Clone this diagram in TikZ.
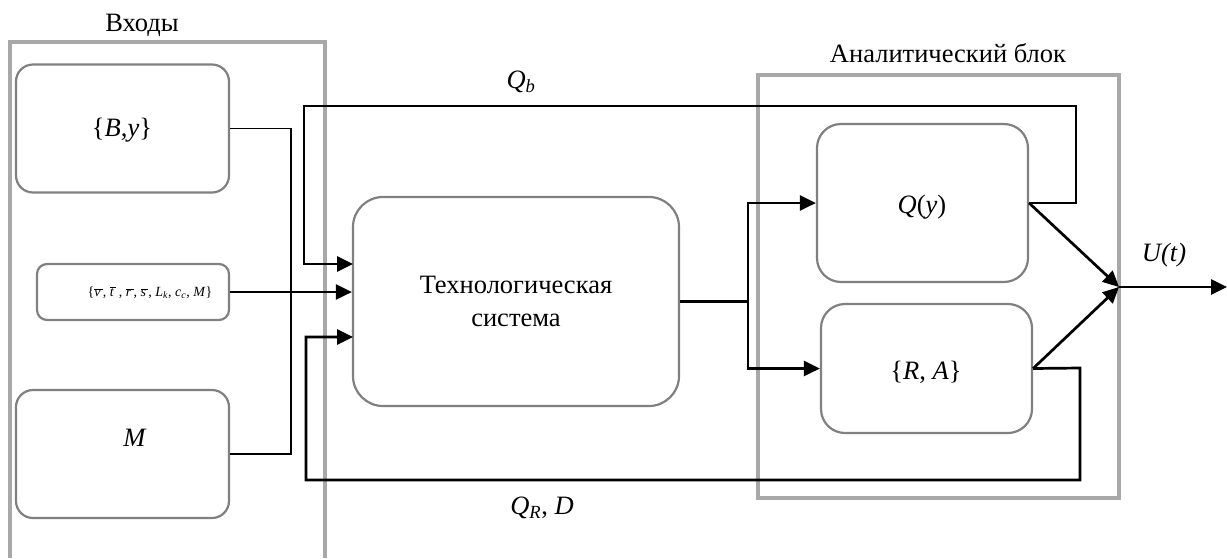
\documentclass[tikz,border=0pt]{standalone}
\usepackage{fontspec}
\setmainfont{Liberation Serif}
\usetikzlibrary{arrows.meta}
\newcommand{\ovl}[1]{$\overline{\mbox{\textit{#1}\,}}$}
\definecolor{groupgray}{HTML}{A8A8A8}
\definecolor{boxgray}{HTML}{808080}
\tikzset{
  group/.style={draw=groupgray, line width=3.5pt},
  block/.style={draw=boxgray, line width=2.2pt, rounded corners=17pt, inner sep=0pt},
  bigtext/.style={font=\fontsize{26.5}{33}\selectfont, inner sep=0pt, align=center},
  flow/.style={line width=2.7pt, -{Triangle[length=16pt,width=15pt]}},
  wire/.style={line width=2.7pt},
  thinwire/.style={line width=1.2pt}
}
\begin{document}
\begin{tikzpicture}[x=1pt, y=-1pt]
\useasboundingbox (0,0) rectangle (1227,558);

% group frames
\draw[group] (10,558) -- (10,42) -- (325,42) -- (325,558);
\node[bigtext] (inlabel) at (142,25) {Входы};
\draw[group] (758,75) rectangle (1119,498);
\node[bigtext] (anlabel) at (948,53) {Аналитический блок};

% input blocks
\node[block, minimum width=213pt, minimum height=128pt] (by) at (122.5,128.5) {};
\node[bigtext] (bytext) at (122,130) {\{\textit{B},\textit{y}\}};
\node[block, rounded corners=10pt, minimum width=192pt, minimum height=56pt] (fm) at (133,292) {};
\node[inner sep=0pt, font=\fontsize{14}{17}\selectfont] (fmtext) at (150,293)
  {\{\ovl{v}, \ovl{t}\,, \ovl{r}, \ovl{s}, \textit{L}\textsubscript{\textit{k}}, \textit{c}\textsubscript{\textit{c}}, \textit{M}\}};
\node[block, minimum width=213pt, minimum height=128pt] (mb) at (122.5,454) {};
\node[bigtext] (mtext) at (135,438) {\textit{M}};

% technological system
\node[block, rounded corners=30pt, minimum width=326pt, minimum height=209pt,
      bigtext, inner sep=0pt] (tech) at (516,301.5) {Технологическая\\система};

% analytic blocks
\node[block, rounded corners=24pt, minimum width=211pt, minimum height=158pt] (q) at (922.5,203) {};
\node[bigtext] (qtext) at (922,207) {\textit{Q}(\textit{y})};
\node[block, rounded corners=24pt, minimum width=211pt, minimum height=129pt] (ra) at (926.5,368.5) {};
\node[bigtext] (ratext) at (926,372) {\{\textit{R}, \textit{A}\}};

% routing points
\coordinate (bus) at (291,300);
\coordinate (in1) at (353,264);
\coordinate (in3) at (353,337);
\coordinate (qbR) at (1076,106);
\coordinate (qbL) at (304,106);
\coordinate (qrR) at (1080,368);
\coordinate (qrL) at (306,480);
\coordinate (fork) at (748,301.5);
\coordinate (join) at (1119,287);
\coordinate (out) at (1227,287);

% inputs bus
\draw[thinwire] (by.east) -| (bus) |- (mb.east);
\draw[flow] (fm.east) -- (tech.west |- fm.east);

% feedback loops
\draw[flow] (q.east) -| (qbR) -- (qbL) |- (in1);
\draw[flow] (ra.east) -- (qrR) |- (qrL) |- (in3);
\node[bigtext] (qblabel) at (521,82) {\textit{Q\textsubscript{b}}};
\node[bigtext] (qrlabel) at (542,508) {\textit{Q\textsubscript{R}}, \textit{D}};

% output of technological system
\draw[wire] (tech.east) -- (fork);
\draw[flow] (fork) |- (q.west);
\draw[flow] (fork) |- (ra.west);

% aggregation into U(t)
\draw[flow] (q.east) -- (join);
\draw[flow] (ra.east) -- (join);
\draw[flow] (join) -- (out);
\node[bigtext] (ulabel) at (1164,255) {\textit{U(t)}};
\end{tikzpicture}
\end{document}
